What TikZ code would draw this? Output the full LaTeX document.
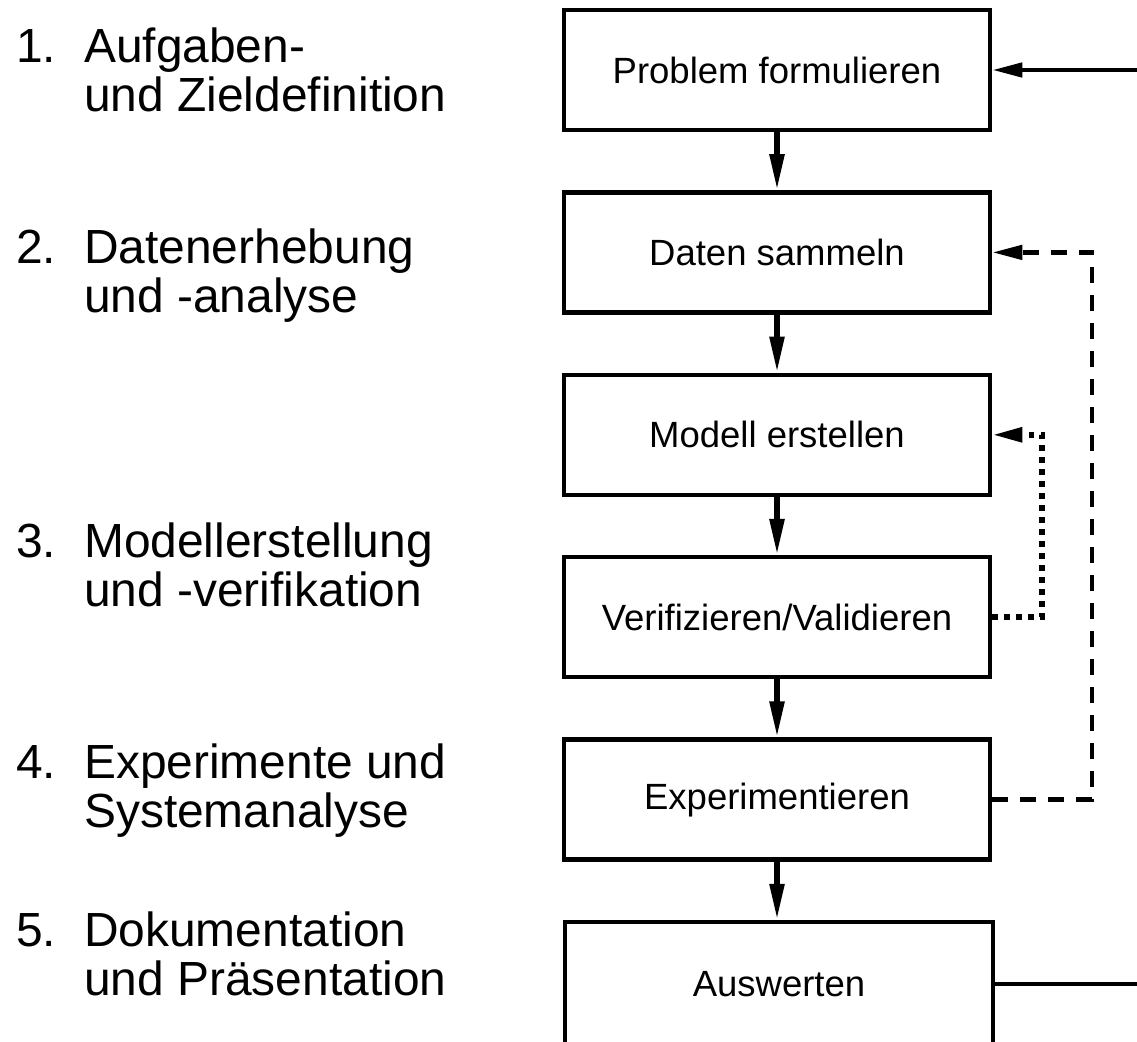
\documentclass[tikz,border=0pt]{standalone}
\usepackage{fontspec}
\setmainfont{Liberation Sans}
\usetikzlibrary{arrows.meta}
\tikzset{
  stepbox/.style={draw, line width=4.5pt, rectangle, inner sep=0pt,
    minimum width=426pt, minimum height=120pt,
    font=\fontsize{36.5}{40}\selectfont},
  lbl/.style={anchor=base west, inner sep=0pt, font=\fontsize{47.9}{49}\selectfont},
  flow/.style={line width=5.5pt, -{Triangle[length=36pt,width=14pt]}},
  back/.style={line width=4.5pt, -{Triangle[length=30pt,width=14pt]}},
  plain/.style={line width=4.5pt},
  dashline/.style={dash pattern=on 16pt off 12pt},
  dotline/.style={line width=5.5pt, dash pattern=on 5.5pt off 6.5pt}
}
\newcommand{\steplabel}[3]{\makebox[68pt][l]{#1}\parbox[t]{400pt}{#2\\#3}}
\begin{document}
\begin{tikzpicture}[x=1pt,y=-1pt]
\useasboundingbox (0,0) rectangle (1137,1041);
\clip (0,0) rectangle (1137,1041);

% left labels
\node[lbl] (l1) at (16,63)  {\steplabel{1.}{Aufgaben-}{und Zieldefinition}};
\node[lbl] (l2) at (16,263) {\steplabel{2.}{Datenerhebung}{und -analyse}};
\node[lbl] (l3) at (16,557) {\steplabel{3.}{Modellerstellung}{und -verifikation}};
\node[lbl] (l4) at (16,778) {\steplabel{4.}{Experimente und}{Systemanalyse}};
\node[lbl] (l5) at (16,946) {\steplabel{5.}{Dokumentation}{und Präsentation}};

% boxes
\node[stepbox] (p) at (777,70)    {Problem formulieren};
\node[stepbox] (d) at (777,252.4) {Daten sammeln};
\node[stepbox] (m) at (777,434.8) {Modell erstellen};
\node[stepbox] (v) at (777,617.2) {Verifizieren/Validieren};
\node[stepbox] (e) at (777,799.6) {Experimentieren};
\node[stepbox, minimum width=428pt, minimum height=124pt] (a) at (779,984) {Auswerten};

% main flow
\draw[flow] (p.south) -- (d.north);
\draw[flow] (d.south) -- (m.north);
\draw[flow] (m.south) -- (v.north);
\draw[flow] (v.south) -- (e.north);
\draw[flow] (e.south) -- (a.north -| e.south);

% outer feedback
\coordinate (topin) at (1140,70);
\coordinate (botout) at (1140,982);
\draw[back] (topin) -- (p.east);
\draw[plain] (a.east) -- (a.east -| botout);

% dashed feedback
\draw[back, dashline] (e.east) -- (1092,799.6) |- (d.east);
% dotted feedback
\draw[back, dotline] (v.east) -- (1042,617.2) |- (m.east);
\end{tikzpicture}
\end{document}
